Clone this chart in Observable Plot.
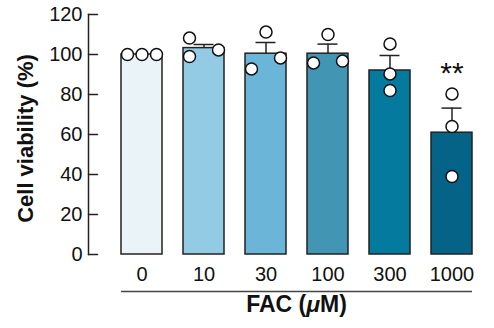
<!DOCTYPE html>
<html>
<head>
<meta charset="utf-8">
<script src="https://cdn.jsdelivr.net/npm/d3@7"></script>
<script src="https://cdn.jsdelivr.net/npm/@observablehq/plot@0.6"></script>
<style>
  html, body { margin: 0; padding: 0; background: #fff; }
  #chart { width: 494px; height: 328px; }
</style>
</head>
<body>
<div id="chart"></div>
<script>
// FAC concentrations (µM) on the x axis
const doses = ["0", "10", "30", "100", "300", "1000"];
// Mean cell viability (%) and SEM for each concentration
const meanViability = [100, 103.2, 100.4, 100.4, 92.0, 60.9];
const semViability = [0, 1.8, 5.6, 4.8, 7.5, 12.3];
// Individual replicate values (%)
const replicates = [
  [100, 100, 100],
  [108.2, 99.0, 102.3],
  [111.2, 92.8, 98.3],
  [110.0, 95.8, 96.7],
  [105.3, 90.3, 82.0],
  [80.3, 64.0, 39.0]
];
// Significance marks versus control
const significance = ["", "", "", "", "", "**"];
const yTicks = [0, 20, 40, 60, 80, 100, 120];

// Bar palette, light to dark teal
const barPalette = ["#eaf3f7", "#93cbe5", "#6bb6d8", "#4395b4", "#047a9f", "#046386"];
const ink = "#222";

const groups = doses.map((dose, i) => ({
  dose,
  mean: meanViability[i],
  sem: semViability[i],
  top: d3.max(replicates[i]),
  sig: significance[i]
}));

// Spread overlapping replicate dots into left / right / centre columns
const overlap = 6; // roughly one marker diameter, in % units
const points = doses.flatMap((dose, i) => {
  const vals = replicates[i];
  const order = d3.range(vals.length).sort((a, b) => vals[a] - vals[b]);
  const placed = [];
  const slots = new Array(vals.length);
  for (const j of order) {
    const crowded = vals.some((v, k) => k !== j && Math.abs(v - vals[j]) < overlap);
    let slot = 0;
    if (crowded) {
      slot = [-1, 1, 0].find(s => !placed.some(p => p.slot === s && Math.abs(p.value - vals[j]) < overlap));
      if (slot === undefined) slot = 0;
    }
    slots[j] = slot;
    placed.push({slot, value: vals[j]});
  }
  return vals.map((value, j) => ({dose, value, slot: slots[j]}));
});

const withError = groups.filter(d => d.sem > 0);
const slotSpacing = 14.5;

// short tick pointing into the plot from the y axis line
const tickShape = {
  draw(context, l) {
    context.moveTo(0, 0);
    context.lineTo(0, -l);
  }
};

const chart = Plot.plot({
  width: 494,
  height: 328,
  marginLeft: 88,
  marginRight: 6,
  marginTop: 14,
  marginBottom: 74,
  style: {fontFamily: "'Liberation Sans', Arial, Helvetica, sans-serif", fontSize: "20px", color: "#111", background: "#fff"},
  x: {domain: doses, paddingInner: 0.345, paddingOuter: 0.37, align: 0.67},
  y: {domain: [0, 120]},
  color: {domain: doses, range: barPalette},
  marks: [
    Plot.barY(groups, {x: "dose", y: "mean", fill: "dose", stroke: ink, strokeWidth: 1.5}),
    Plot.ruleX(withError, {x: "dose", y1: "mean", y2: d => d.mean + d.sem, stroke: ink, strokeWidth: 1.5}),
    Plot.tickY(withError, {x: "dose", y: d => d.mean + d.sem, inset: 10.5, stroke: ink, strokeWidth: 1.5}),
    ...[-1, 0, 1].map(s =>
      Plot.dot(points.filter(p => p.slot === s), {
        x: "dose", y: "value", r: 6, fill: "#fff", stroke: "#111", strokeWidth: 1.5, dx: s * slotSpacing
      })
    ),
    Plot.text(groups.filter(d => d.sig), {
      x: "dose", y: "top", text: "sig", lineAnchor: "top", dy: -32, fontSize: 30, fill: "#111"
    }),
    Plot.frame({anchor: "left", stroke: ink, strokeWidth: 1.5}),
    Plot.vector(yTicks, {
      y: d => d, frameAnchor: "left", length: 9, rotate: 90, anchor: "start",
      shape: tickShape, stroke: ink, strokeWidth: 1.5
    }),
    Plot.axisY({ticks: yTicks, tickSize: 0, tickPadding: 6, label: null}),
    Plot.axisX({tickSize: 0, tickPadding: 12, label: null}),
    // bracket under the concentration labels
    Plot.ruleY([0], {x1: () => doses[0], x2: () => doses[doses.length - 1], dy: 37, stroke: "#444", strokeWidth: 1.5}),
    Plot.text(["FAC (μM)"], {frameAnchor: "bottom", dx: 8, dy: 57, fontWeight: "bold", fontSize: 23, fill: "#111"}),
    Plot.text(["Cell viability (%)"], {
      frameAnchor: "left", textAnchor: "middle", rotate: -90, dx: -63, dy: 4,
      fontWeight: "bold", fontSize: 22, fill: "#111"
    })
  ]
});

// italic µ in the axis title
chart.querySelectorAll("text").forEach(t => {
  if (t.textContent === "FAC (μM)") {
    t.textContent = "";
    const parts = [["FAC (", null], ["μ", "italic"], ["M)", null]];
    for (const [s, style] of parts) {
      const ts = document.createElementNS("http://www.w3.org/2000/svg", "tspan");
      ts.textContent = s;
      if (style) ts.setAttribute("font-style", style);
      t.appendChild(ts);
    }
  }
});

document.getElementById("chart").appendChild(chart);
</script>
</body>
</html>
